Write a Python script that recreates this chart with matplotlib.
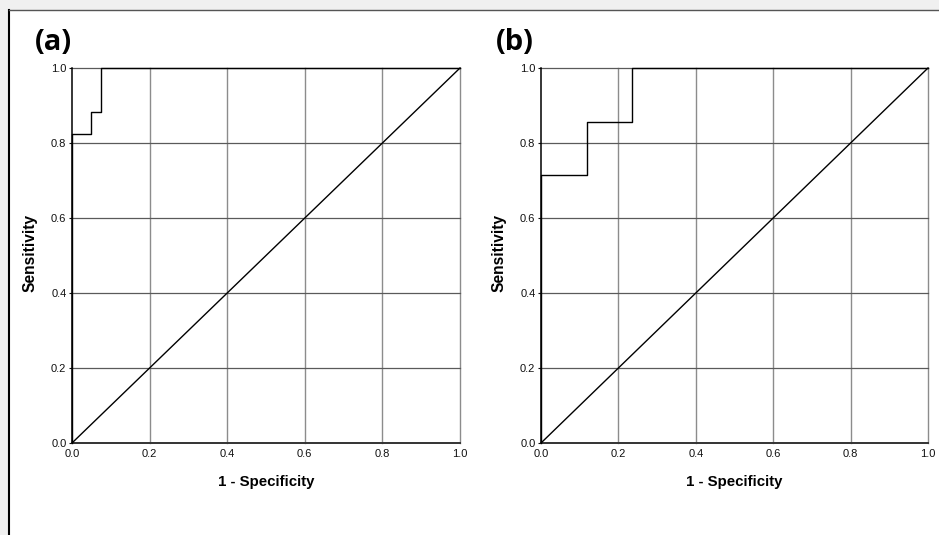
import matplotlib
matplotlib.use("Agg")
import matplotlib.pyplot as plt
from matplotlib.patches import Rectangle
from matplotlib.lines import Line2D

# ROC data
fpr_a = [0.0, 0.0, 0.05, 0.075, 1.0]
tpr_a = [0.0, 0.824, 0.882, 1.0, 1.0]
fpr_b = [0.0, 0.0, 0.118, 0.235, 1.0]
tpr_b = [0.0, 0.714, 0.857, 1.0, 1.0]
ref_line = [0.0, 1.0]
ticks = [0.0, 0.2, 0.4, 0.6, 0.8, 1.0]
tick_labels = ["0.0", "0.2", "0.4", "0.6", "0.8", "1.0"]
panel_labels = ["(a)", "(b)"]
xlabel = "1 - Specificity"
ylabel = "Sensitivity"

W, H = 939, 535
fig = plt.figure(figsize=(W / 100, H / 100), dpi=100)
fig.patch.set_facecolor("#f0f0f0")
fig.patches.append(Rectangle((9 / W, 0), 1 - 9 / W, 1 - 10 / H, transform=fig.transFigure,
                             facecolor="white", edgecolor="none", zorder=-5))
fig.lines.append(Line2D([8.5 / W, 8.5 / W], [0, 1 - 9.5 / H], transform=fig.transFigure,
                        color="black", lw=1.5, zorder=-4))
fig.lines.append(Line2D([8.5 / W, 1], [1 - 9.5 / H, 1 - 9.5 / H], transform=fig.transFigure,
                        color="#555555", lw=1.0, zorder=-4))

tick_font = dict(family=["Liberation Sans", "DejaVu Sans"], size=8)
xlab_font = dict(family=["Liberation Sans", "DejaVu Sans"], size=10.8, weight="bold")
ylab_font = dict(family=["Liberation Sans", "DejaVu Sans"], size=11.2, weight="bold")

panels = [
    (72, 460, fpr_a, tpr_a, 35),
    (541, 928, fpr_b, tpr_b, 496),
]
y0, y1 = 443, 68
for (xl, xr, fpr, tpr, lx), plabel in zip(panels, panel_labels):
    ax = fig.add_axes([xl / W, 1 - y0 / H, (xr - xl) / W, (y0 - y1) / H])
    ax.set_xlim(0, 1)
    ax.set_ylim(0, 1)
    ax.set_facecolor("white")
    for x in ticks[1:]:
        ax.axvline(x, color="#8c8c8c", lw=1.0, zorder=1, clip_on=False)
    for y in ticks[1:]:
        ax.axhline(y, color="#5a5a5a", lw=0.9, zorder=1, clip_on=False)
    ax.plot(ref_line, ref_line, color="black", lw=1.0, zorder=3, clip_on=False)
    ax.plot(fpr, tpr, color="black", lw=1.0, drawstyle="steps-post", zorder=4, clip_on=False)
    ax.set_xticks(ticks)
    ax.set_yticks(ticks)
    ax.set_xticklabels(tick_labels, **tick_font)
    ax.set_yticklabels(tick_labels, **tick_font)
    ax.tick_params(axis="x", length=0, pad=4, colors="#111111")
    ax.tick_params(axis="y", length=2.5, width=0.8, pad=1.5, colors="#111111")
    for s in ["top", "right"]:
        ax.spines[s].set_visible(False)
    ax.spines["left"].set_color("black")
    ax.spines["left"].set_linewidth(1.1)
    ax.spines["bottom"].set_color("#333333")
    ax.spines["bottom"].set_linewidth(1.4)
    fig.text((xl + xr) / 2 / W, 1 - 482 / H, xlabel, ha="center", va="center", **xlab_font)
    fig.text((xl - 42.5) / W, 1 - 253 / H, ylabel, ha="center", va="center", rotation=90, **ylab_font)
    fig.text(lx / W, 1 - 42.5 / H, plabel, ha="left", va="center",
             family=["Open Sans", "DejaVu Sans"], weight="bold", size=21)

fig.savefig("out.png", dpi=100, facecolor=fig.get_facecolor())
